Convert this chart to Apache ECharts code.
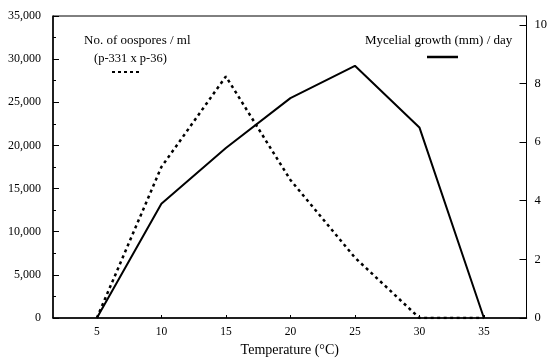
<!DOCTYPE html>
<html>
<head>
<meta charset="utf-8">
<script src="https://cdn.jsdelivr.net/npm/echarts@6/dist/echarts.min.js"></script>
<style>
  html, body { margin: 0; padding: 0; background: #fff; }
  #chart { width: 550px; height: 362px; }
</style>
</head>
<body>
<div id="chart"></div>
<script>
// 温度 (°C)
var temps = [5, 10, 15, 20, 25, 30, 35];
// 卵孢子数 / ml
var oospores = [0, 17500, 28000, 16000, 7000, 0, 0];
// 菌丝生长 (mm) / day
var growth = [0, 3.9, 5.8, 7.5, 8.6, 6.5, 0];
// 刻度
var xTicks = [5, 10, 15, 20, 25, 30, 35];
var rightTicks = [0, 2, 4, 6, 8, 10];

var serif = 'Liberation Serif';
var chart = echarts.init(document.getElementById('chart'));

function pairs(ys) {
  return temps.map(function (t, i) { return [t, ys[i]]; });
}

var option = {
  animation: false,
  grid: {
    left: 53, right: 21, top: 16, bottom: 39,
    show: true, borderColor: '#000', borderWidth: 1
  },
  xAxis: {
    type: 'value',
    min: 1.6,
    max: 38.3,
    name: 'Temperature (°C)',
    nameLocation: 'middle',
    nameGap: 25,
    nameTextStyle: { fontFamily: serif, fontSize: 14, color: '#000' },
    axisLine: { lineStyle: { color: '#000', width: 1.5 } },
    axisTick: { inside: true, length: 3, customValues: xTicks, lineStyle: { color: '#000' } },
    axisLabel: { customValues: xTicks, fontFamily: serif, fontSize: 11.5, color: '#000', margin: 8 },
    splitLine: { show: false }
  },
  yAxis: [{
    type: 'value',
    min: 0,
    max: 35000,
    interval: 5000,
    position: 'left',
    axisLine: { show: true, lineStyle: { color: '#000', width: 1.5 } },
    axisTick: { show: true, inside: true, length: 6, lineStyle: { color: '#000' } },
    minorTick: { show: true, splitNumber: 2, length: 3, lineStyle: { color: '#000' } },
    axisLabel: {
      fontFamily: serif, fontSize: 12, color: '#000', margin: 12,
      formatter: function (v) { return v.toLocaleString('en-US'); }
    },
    splitLine: { show: false }
  }, {
    type: 'value',
    min: 0,
    max: 10.3,
    position: 'right',
    axisLine: { show: true, lineStyle: { color: '#000', width: 1 } },
    axisTick: { show: true, inside: true, length: 7, customValues: rightTicks, lineStyle: { color: '#000' } },
    axisLabel: { customValues: rightTicks, fontFamily: serif, fontSize: 12.5, color: '#000', margin: 8 },
    splitLine: { show: false }
  }],
  graphic: [
    { type: 'text', left: 84, top: 34, style: { text: 'No. of oospores / ml', fontFamily: serif, fontSize: 13, fill: '#000' } },
    { type: 'text', left: 94, top: 52, style: { text: '(p-331 x p-36)', fontFamily: serif, fontSize: 12.5, fill: '#000' } },
    { type: 'line', shape: { x1: 112, y1: 72, x2: 140, y2: 72 }, style: { stroke: '#000', lineWidth: 2, lineDash: [3, 3] } },
    { type: 'text', left: 365, top: 34, style: { text: 'Mycelial growth (mm) / day', fontFamily: serif, fontSize: 13, fill: '#000' } },
    { type: 'line', shape: { x1: 427, y1: 57, x2: 458, y2: 57 }, style: { stroke: '#000', lineWidth: 2.5 } }
  ],
  series: [{
    name: 'No. of oospores / ml',
    type: 'line',
    yAxisIndex: 0,
    data: pairs(oospores),
    symbol: 'none',
    lineStyle: { color: '#000', width: 2.5, type: [3, 3.5] }
  }, {
    name: 'Mycelial growth (mm) / day',
    type: 'line',
    yAxisIndex: 1,
    data: pairs(growth),
    symbol: 'none',
    lineStyle: { color: '#000', width: 2 }
  }]
};
chart.setOption(option);
</script>
</body>
</html>
